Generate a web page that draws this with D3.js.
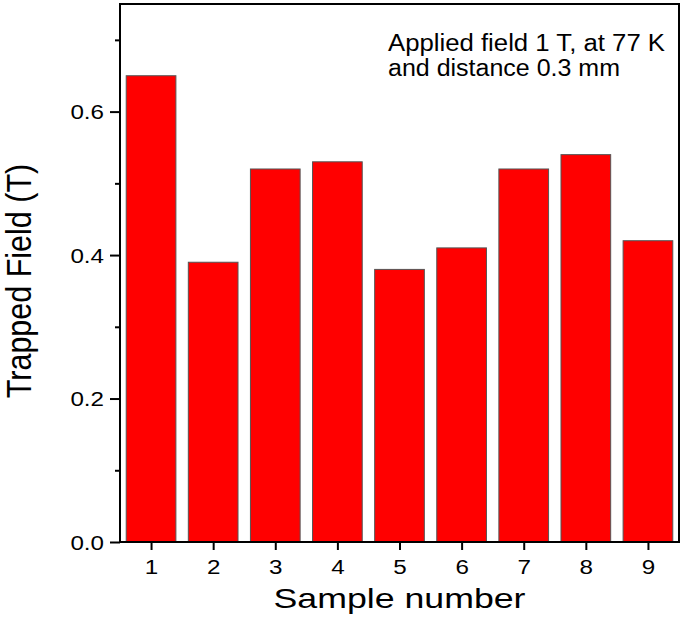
<!DOCTYPE html>
<html>
<head>
<meta charset="utf-8">
<script src="https://cdn.jsdelivr.net/npm/d3@7"></script>
<style>
  html, body { margin: 0; padding: 0; background: #fff; }
  svg { display: block; }
  text { font-family: "Liberation Sans", Arial, Helvetica, sans-serif; fill: #000; }
</style>
</head>
<body>
<svg id="chart" width="685" height="630"></svg>
<script>
const samples = [1, 2, 3, 4, 5, 6, 7, 8, 9];
const trappedField = [0.65, 0.39, 0.52, 0.53, 0.38, 0.41, 0.52, 0.54, 0.42];
const yMajorTicks = [0.0, 0.2, 0.4, 0.6];
const yMinorTicks = [0.1, 0.3, 0.5, 0.7];
const xTickLabels = ["1", "2", "3", "4", "5", "6", "7", "8", "9"];
const annotationLines = ["Applied field 1 T, at 77 K", "and distance 0.3 mm"];
const xTitle = "Sample number";
const yTitle = "Trapped Field (T)";

(function () {
const svg = d3.select("#chart");
const pLeft = 120, pRight = 679, pTop = 4, pBottom = 542;

const x = d3.scaleLinear().domain([0.5, 9.5]).range([pLeft, pRight]);
const y = d3.scaleLinear().domain([0, 0.75]).range([pBottom, pTop]);
const barW = 0.8;

function stretch(sel, factor) {
  sel.each(function () {
    const w = this.getComputedTextLength();
    d3.select(this).attr("textLength", w * factor).attr("lengthAdjust", "spacingAndGlyphs");
  });
}

// Bars
svg.append("g").selectAll("rect")
  .data(samples)
  .join("rect")
  .attr("x", (d) => x(d - barW / 2))
  .attr("width", (d) => x(d + barW / 2) - x(d - barW / 2))
  .attr("y", (d, i) => y(trappedField[i]))
  .attr("height", (d, i) => y(0) - y(trappedField[i]))
  .attr("fill", "#ff0000")
  .attr("stroke", "#555")
  .attr("stroke-width", 1);

// Frame
svg.append("rect")
  .attr("x", pLeft).attr("y", pTop)
  .attr("width", pRight - pLeft).attr("height", pBottom - pTop)
  .attr("fill", "none").attr("stroke", "#000").attr("stroke-width", 2);

// Y axis major
const yAxis = svg.append("g")
  .attr("transform", `translate(${pLeft},0)`)
  .call(d3.axisLeft(y).tickValues(yMajorTicks).tickFormat(d3.format(".1f")).tickSize(10).tickPadding(6));
yAxis.select(".domain").remove();
yAxis.attr("font-family", null).attr("font-size", null);
yAxis.selectAll(".tick line").attr("stroke", "#000").attr("stroke-width", 2);
yAxis.selectAll(".tick text")
  .attr("font-size", 19.5)
  .attr("x", -16).attr("dy", "0.36em");
stretch(yAxis.selectAll(".tick text"), 1.24);

// Y axis minor
const yMinor = svg.append("g")
  .attr("transform", `translate(${pLeft},0)`)
  .call(d3.axisLeft(y).tickValues(yMinorTicks).tickFormat("").tickSize(5));
yMinor.select(".domain").remove();
yMinor.selectAll(".tick line").attr("stroke", "#000").attr("stroke-width", 2);

// X axis
const xAxis = svg.append("g")
  .attr("transform", `translate(0,${pBottom})`)
  .call(d3.axisBottom(x).tickValues(samples).tickFormat((d, i) => xTickLabels[i]).tickSize(8));
xAxis.select(".domain").remove();
xAxis.attr("font-family", null).attr("font-size", null);
xAxis.selectAll(".tick line").attr("stroke", "#000").attr("stroke-width", 2);
xAxis.selectAll(".tick text")
  .attr("font-size", 19.5)
  .attr("y", 32).attr("dy", 0);
stretch(xAxis.selectAll(".tick text"), 1.24);

// X title
const xt = svg.append("text")
  .attr("x", (pLeft + pRight) / 2).attr("y", 608)
  .attr("text-anchor", "middle")
  .attr("font-size", 28)
  .text(xTitle);
stretch(xt, 1.275);

// Y title
svg.append("text")
  .attr("transform", `translate(31,281) rotate(-90) scale(1,1.15)`)
  .attr("text-anchor", "middle")
  .attr("font-size", 30.5)
  .text(yTitle);

// Annotation
const annWidths = [277, 232];
svg.append("g").selectAll("text")
  .data(annotationLines)
  .join("text")
  .attr("x", 388)
  .attr("y", (d, i) => 51 + i * 24.5)
  .attr("font-size", 23.5)
  .attr("textLength", (d, i) => annWidths[i])
  .attr("lengthAdjust", "spacingAndGlyphs")
  .text((d) => d);
})();
</script>
</body>
</html>
